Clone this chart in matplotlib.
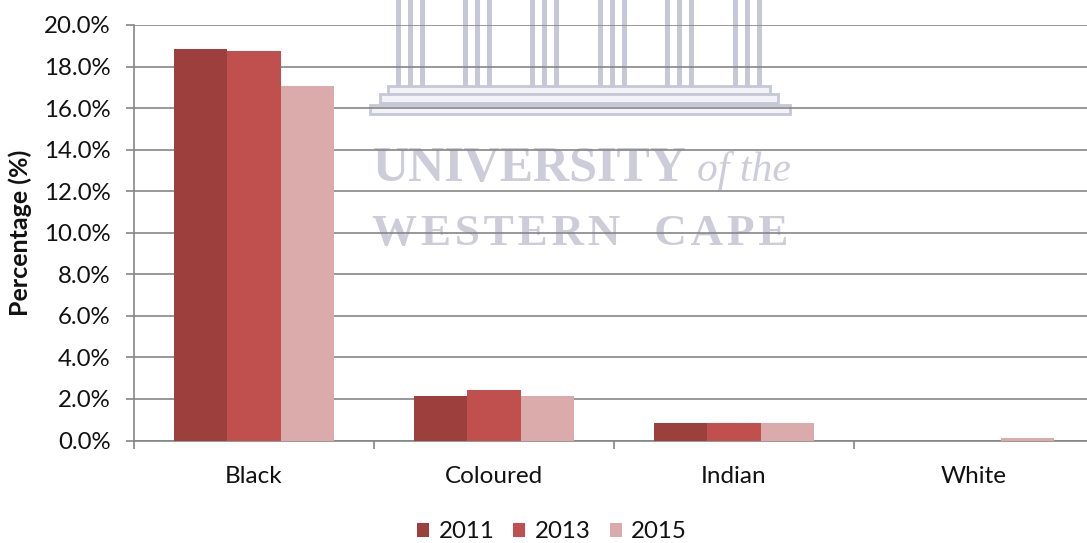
import numpy as np
import matplotlib
matplotlib.use("Agg")
import matplotlib.pyplot as plt
from matplotlib.patches import Rectangle

categories = ["Black", "Coloured", "Indian", "White"]
years = ["2011", "2013", "2015"]
v2011 = [18.85, 2.12, 0.83, 0.0]
v2013 = [18.75, 2.45, 0.86, 0.0]
v2015 = [17.05, 2.15, 0.84, 0.1]
colors = ["#9C3F3D", "#C0504D", "#DBABAB"]
y_ticks = [0, 2, 4, 6, 8, 10, 12, 14, 16, 18, 20]

W, H = 1087, 543
plt.rcParams["font.family"] = ["Lato", "DejaVu Sans"]
fig = plt.figure(figsize=(W / 100, H / 100), dpi=100)

# watermark sits in its own pixel-coordinate axes, under the chart
bg = fig.add_axes([0, 0, 1, 1], zorder=0)
bg.set_xlim(0, W)
bg.set_ylim(H, 0)
bg.axis("off")
mark = "#C6C7D7"
word = "#CCCDD9"
for g in range(6):
    x0 = 398 + g * 67.4
    for dx in (0, 12, 24):
        bg.add_patch(Rectangle((x0 - 2.5 + dx, -2), 5, 88, fc=mark, ec="none"))
for x, w, y, h in [(388, 382, 86, 8), (380, 398, 94, 9), (370, 420, 105, 9)]:
    bg.add_patch(Rectangle((x, y), w, h, fc="#F2F2F7", ec=mark, lw=2))
bg.text(373, 181, "UNIVERSITY", family="Liberation Serif", fontsize=36, color=word,
        weight="bold", va="baseline", ha="left")
bg.text(697, 181, "of the", family="Liberation Serif", fontsize=30, color=word,
        style="italic", va="baseline", ha="left")
hair = "\u200a"
bg.text(372, 245, hair.join("WESTERN") + "   " + hair.join("CAPE"), family="Liberation Serif",
        fontsize=32.5, color=word, weight="bold", va="baseline", ha="left")

ax = fig.add_axes([134 / W, 1 - 440.5 / H, 1 - 134 / W, (440.5 - 25) / H], zorder=1)
ax.patch.set_alpha(0)

x = np.arange(len(categories)) + 0.5
bw = 0.2222
series = [v2011, v2013, v2015]
for i in range(3):
    ax.bar(x + (i - 1) * bw, series[i], bw, color=colors[i], label=years[i], zorder=3)

ax.set_xlim(0, (W - 134) / 240)
ax.set_ylim(0, 20)
ax.set_yticks(y_ticks)
ax.set_yticklabels(["%.1f%%" % t for t in y_ticks], fontsize=17.3, color="#111111")
ax.set_xticks(np.arange(len(categories)))
ax.set_xticklabels([])
ax.set_xticks(x, minor=True)
ax.set_xticklabels(categories, minor=True, fontsize=17.5, color="#111111")

grey = "#868686"
ax.grid(axis="y", color=grey, lw=1.2, zorder=1)
ax.set_axisbelow(True)
ax.tick_params(axis="y", length=6, width=1.2, color=grey, pad=11)
ax.tick_params(axis="x", which="major", length=6, width=1.2, color=grey)
ax.tick_params(axis="x", which="minor", length=0, pad=18.5)
for s in ("top", "right"):
    ax.spines[s].set_visible(False)
for s in ("left", "bottom"):
    ax.spines[s].set_color(grey)
    ax.spines[s].set_linewidth(1.2)

fig.text(20.5 / W, 1 - 233 / H, "Percentage (%)", rotation=90, fontsize=18, weight="bold",
         va="center", ha="center", color="#111111")

fig.legend(loc="center", bbox_to_anchor=(552 / W, 1 - 532 / H), ncol=3, frameon=False,
           fontsize=17.3, handlelength=0.5, handleheight=0.5, handletextpad=0.4,
           columnspacing=0.78, labelcolor="#111111")

fig.savefig("out.png", dpi=100)
